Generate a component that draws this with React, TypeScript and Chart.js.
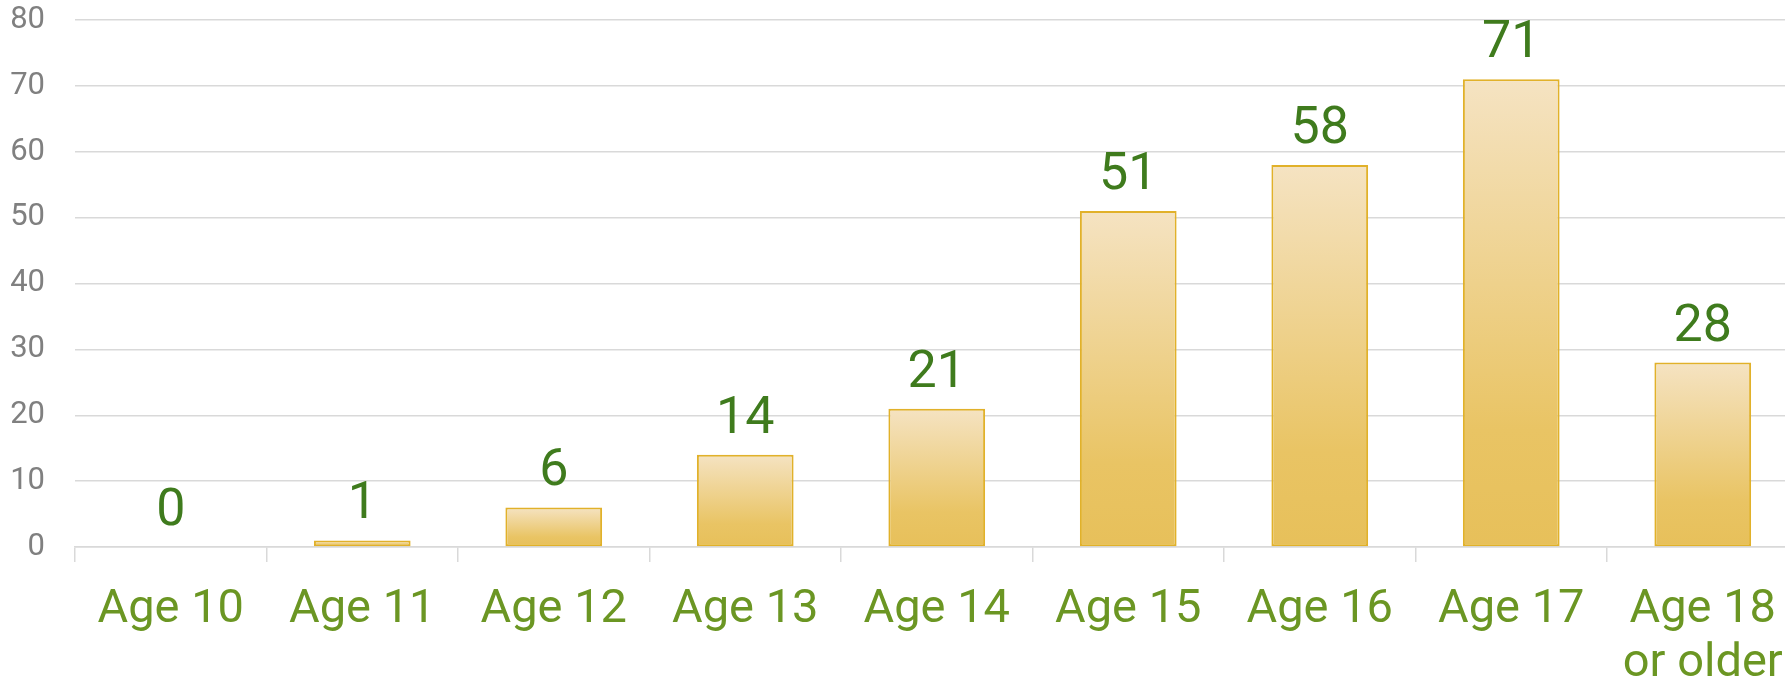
import React, { useEffect, useRef } from "react";
import { Chart, registerables } from "chart.js";

Chart.register(...registerables);

const categories: (string | string[])[] = [
  "Age 10",
  "Age 11",
  "Age 12",
  "Age 13",
  "Age 14",
  "Age 15",
  "Age 16",
  "Age 17",
  ["Age 18", "or older"],
];
const counts: number[] = [0, 1, 6, 14, 21, 51, 58, 71, 28];
const yTicks: number[] = [0, 10, 20, 30, 40, 50, 60, 70, 80];

const FONT = "Roboto, 'Noto Sans', sans-serif";

const valueLabels = {
  id: "valueLabels",
  afterDatasetsDraw(chart: any) {
    const ctx = chart.ctx;
    const meta = chart.getDatasetMeta(0);
    ctx.save();
    ctx.font = `52px ${FONT}`;
    ctx.fillStyle = "#3f7b1d";
    ctx.textAlign = "center";
    ctx.textBaseline = "alphabetic";
    meta.data.forEach((el: any, i: number) => {
      ctx.fillText(String(counts[i]), el.x, el.y - 22);
    });
    ctx.restore();
  },
};

export default function App() {
  const ref = useRef<HTMLCanvasElement>(null);
  useEffect(() => {
    document.body.style.margin = "0";
    const canvas = ref.current!;
    const chart = new Chart(canvas, {
      type: "bar",
      data: {
        labels: categories,
        datasets: [
          {
            data: counts,
            backgroundColor: (c: any) => {
              const ch = c.chart;
              const y = ch.scales && ch.scales.y;
              if (!y || c.type !== "data") return "#edd08a";
              const top = y.getPixelForValue(c.raw);
              const bottom = y.getPixelForValue(0);
              if (!isFinite(top) || !isFinite(bottom) || bottom - top < 1) return "#edd08a";
              const g = ch.ctx.createLinearGradient(0, top, 0, bottom);
              g.addColorStop(0, "#f5e3c2");
              g.addColorStop(0.75, "#e9c464");
              g.addColorStop(1, "#e7c05a");
              return g;
            },
            borderColor: "#e1b12a",
            borderWidth: 2,
            borderSkipped: false,
            barPercentage: 0.505,
            categoryPercentage: 1,
          },
        ],
      },
      options: {
        animation: false,
        responsive: false,
        maintainAspectRatio: false,
        layout: { padding: { top: 20, right: 101.5, bottom: 0, left: 0 } },
        plugins: { legend: { display: false }, tooltip: { enabled: false } },
        scales: {
          x: {
            offset: true,
            grid: {
              offset: true,
              drawOnChartArea: false,
              drawTicks: true,
              tickLength: 15,
              color: "#d9d9d9",
              lineWidth: 1.5,
            },
            border: { display: true, color: "#d9d9d9", width: 1.5 },
            ticks: {
              color: "#6b9623",
              font: { family: FONT, size: 47, lineHeight: 1.15 },
              padding: 21,
              maxRotation: 0,
              autoSkip: false,
            },
            afterFit: (s: any) => {
              s.height = 683 - 547;
            },
          },
          y: {
            min: 0,
            max: 80,
            afterBuildTicks: (s: any) => {
              s.ticks = yTicks.map((v) => ({ value: v }));
            },
            grid: {
              color: "#d9d9d9",
              lineWidth: 1.5,
              drawTicks: true,
              tickLength: 30,
              tickColor: "rgba(0,0,0,0)",
            },
            border: { display: false },
            ticks: {
              color: "#808080",
              font: { family: FONT, size: 31 },
              padding: 0,
            },
            afterFit: (s: any) => {
              s.width = 75;
            },
          },
        },
      },
      plugins: [valueLabels],
    });
    return () => chart.destroy();
  }, []);
  return (
    <div
      style={{
        position: "fixed",
        left: 0,
        top: 0,
        width: 1785,
        height: 683,
        overflow: "hidden",
        background: "#fff",
      }}
    >
      <canvas ref={ref} width={1900} height={683} style={{ display: "block", width: 1900, height: 683 }} />
    </div>
  );
}
